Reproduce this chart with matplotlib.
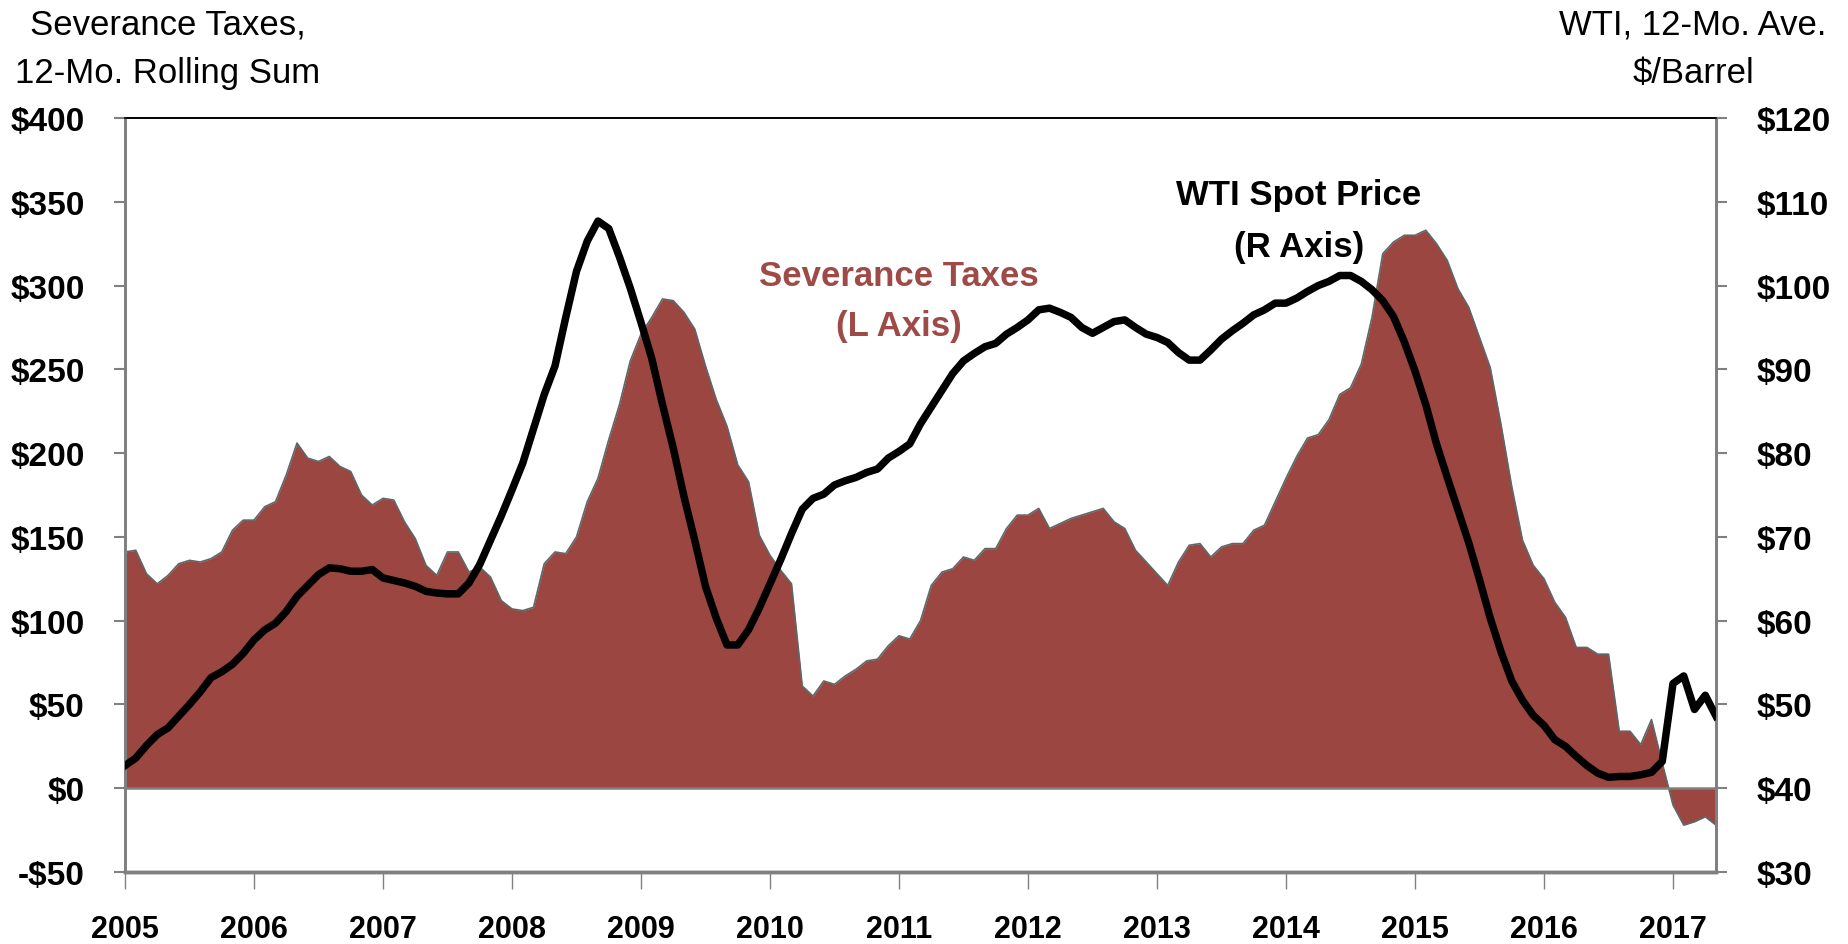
import matplotlib
matplotlib.use("Agg")
import matplotlib.pyplot as plt
import numpy as np
import pandas as pd

# monthly data, Jan 2005 - May 2017
months = pd.date_range("2005-01-01", periods=149, freq="MS")

# severance taxes, 12-mo rolling sum ($M, left axis)
severance = [
    141, 142, 128, 122, 127, 134, 136, 135, 137, 141, 154, 160,   # 2005
    160, 168, 171, 187, 206, 197, 195, 198, 192, 189, 175, 169,   # 2006
    173, 172, 159, 149, 133, 127, 141, 141, 129, 132, 126, 112,   # 2007
    107, 106, 108, 134, 141, 140, 150, 171, 185, 208, 229, 255,   # 2008
    271, 281, 292, 291, 284, 274, 252, 232, 216, 193, 183, 151,   # 2009
    139, 130, 122, 61, 55, 64, 62, 67, 71, 76, 77, 85,            # 2010
    91, 89, 100, 121, 129, 131, 138, 136, 143, 143, 155, 163,     # 2011
    163, 167, 155, 158, 161, 163, 165, 167, 159, 155, 142, 135,   # 2012
    128, 121, 135, 145, 146, 138, 144, 146, 146, 154, 157, 171,   # 2013
    185, 198, 209, 211, 220, 235, 239, 253, 281, 319, 326, 330,   # 2014
    330, 333, 325, 315, 298, 287, 269, 251, 217, 180, 148, 133,   # 2015
    125, 111, 102, 84, 84, 80, 80, 34, 34, 26, 41, 15,            # 2016
    -10, -22, -20, -17, -22,                                      # 2017
]

# WTI spot price, 12-mo average ($/bbl, right axis)
wti = [
    42.7, 43.6, 45.1, 46.4, 47.2, 48.6, 50.0, 51.5, 53.2, 53.9, 54.8, 56.1,
    57.7, 58.9, 59.7, 61.1, 62.9, 64.2, 65.5, 66.3, 66.2, 65.9, 65.9, 66.1,
    65.1, 64.8, 64.5, 64.1, 63.5, 63.3, 63.2, 63.2, 64.5, 66.7, 69.6, 72.5,
    75.6, 78.8, 82.9, 87.0, 90.4, 96.2, 101.7, 105.3, 107.7, 106.8, 103.4, 99.7,
    95.6, 91.3, 85.8, 80.6, 74.8, 69.6, 64.1, 60.3, 57.1, 57.1, 58.9, 61.5,
    64.4, 67.3, 70.4, 73.3, 74.6, 75.1, 76.2, 76.7, 77.1, 77.7, 78.1, 79.4,
    80.2, 81.1, 83.5, 85.5, 87.5, 89.5, 91.0, 91.9, 92.7, 93.1, 94.2, 95.0,
    95.9, 97.1, 97.3, 96.8, 96.2, 95.0, 94.3, 95.0, 95.7, 95.9, 95.0, 94.2,
    93.8, 93.2, 92.0, 91.1, 91.1, 92.3, 93.6, 94.6, 95.5, 96.5, 97.1, 97.9,
    97.9, 98.5, 99.3, 100.0, 100.5, 101.2, 101.2, 100.5, 99.5, 98.2, 96.3, 93.3,
    89.8, 85.8, 81.1, 77.1, 73.2, 69.3, 64.9, 60.3, 56.3, 52.8, 50.5, 48.7,
    47.5, 45.8, 45.0, 43.8, 42.7, 41.8, 41.3, 41.4, 41.4, 41.6, 41.9, 43.2,
    52.5, 53.4, 49.4, 51.1, 48.6,
]

years = list(range(2005, 2018))
left_ticks = list(range(-50, 401, 50))
right_ticks = list(range(30, 121, 10))

FILL = "#9C4642"
EDGE = "#5E6868"
GRAY = "#808080"

plt.rcParams["font.family"] = ["Liberation Sans", "DejaVu Sans"]

x = months.year + (months.month - 1) / 12.0

fig = plt.figure(figsize=(18.48, 9.45), dpi=100)
ax = fig.add_axes([125 / 1848, 72 / 945, 1591 / 1848, 754 / 945])

ax.fill_between(x, 0, severance, color=FILL, linewidth=0, zorder=1)
ax.plot(x, severance, color=EDGE, lw=1.2, zorder=2)
ax.axhline(0, color=GRAY, lw=1.8, zorder=3)

ax.set_xlim(x[0], x[-1])
ax.set_ylim(-50, 400)
ax.set_yticks(left_ticks)
ax.set_yticklabels([f"-${-v}" if v < 0 else f"${v}" for v in left_ticks],
                   fontsize=24, fontweight="bold")
ax.set_xticks(years)
ax.set_xticklabels([str(y) for y in years], fontsize=22, fontweight="bold")

ax2 = ax.twinx()
ax2.plot(x, wti, color="black", lw=5.4, solid_joinstyle="round", zorder=4)
ax2.set_ylim(30, 120)
ax2.set_yticks(right_ticks)
ax2.set_yticklabels([f"${v}" for v in right_ticks], fontsize=24, fontweight="bold")

for a in (ax, ax2):
    a.spines["top"].set_color("black")
    a.spines["top"].set_linewidth(1.2)
    a.spines["left"].set_color(GRAY)
    a.spines["left"].set_linewidth(2)
    a.spines["right"].set_color(GRAY)
    a.spines["right"].set_linewidth(2)
    a.spines["bottom"].set_color(GRAY)
    a.spines["bottom"].set_linewidth(2.5)

ax.tick_params(axis="y", direction="out", length=8, width=1.5, color=GRAY, pad=21)
ax.tick_params(axis="x", direction="out", length=12, width=1, color=GRAY, pad=18)
ax2.tick_params(axis="y", direction="out", length=8, width=1.5, color=GRAY, pad=21)

ax.text(2011.0, 291, "Severance Taxes\n(L Axis)", color="#9E4A46", fontsize=25,
        fontweight="bold", ha="center", va="center", linespacing=1.68, zorder=5)
ax.text(2014.1, 339, "WTI Spot Price\n(R Axis)", color="black", fontsize=25,
        fontweight="bold", ha="center", va="center", linespacing=1.72, zorder=5)

fig.text(168 / 1848, 1 - 49 / 945, "Severance Taxes,\n12-Mo. Rolling Sum",
         fontsize=25, ha="center", va="center", linespacing=1.6)
fig.text(1693 / 1848, 1 - 49 / 945, "WTI, 12-Mo. Ave.\n$/Barrel",
         fontsize=25, ha="center", va="center", linespacing=1.6)

fig.savefig("out.png", dpi=100)
